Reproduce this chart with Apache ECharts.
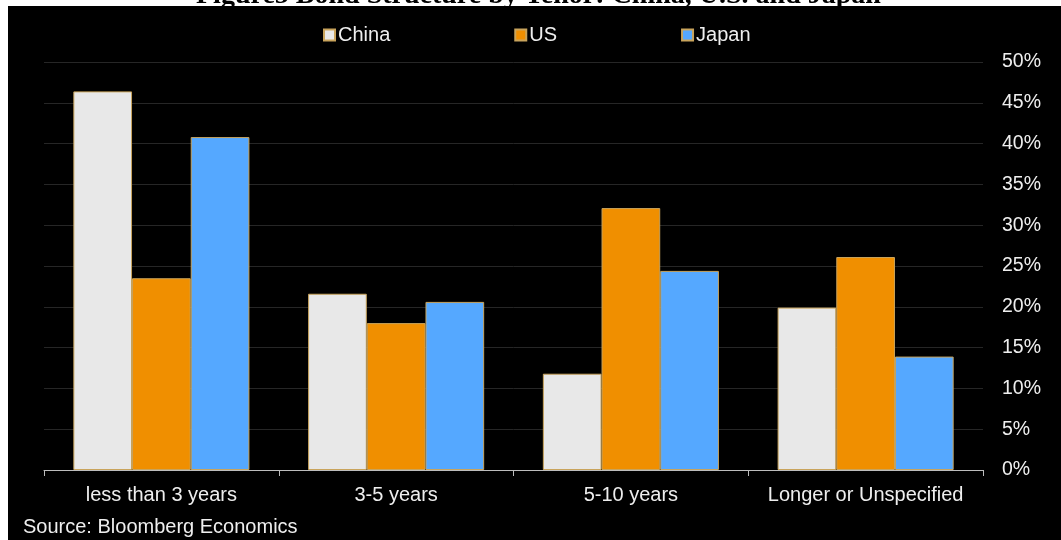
<!DOCTYPE html>
<html>
<head>
<meta charset="utf-8">
<script src="https://cdn.jsdelivr.net/npm/echarts@6/dist/echarts.min.js"></script>
<style>
  html, body { margin: 0; padding: 0; background: #ffffff; }
  #chart { width: 1061px; height: 540px; }
</style>
</head>
<body>
<div id="chart"></div>
<script>
// Bond structure by tenor, share of outstanding bonds (%)
const categories = ['less than 3 years', '3-5 years', '5-10 years', 'Longer or Unspecified'];
const china = [46.4, 21.6, 11.8, 19.9];
const us = [23.5, 18.0, 32.1, 26.1];
const japan = [40.8, 20.6, 24.4, 13.9];
const yTicks = { min: 0, max: 50, step: 5 };

const textColor = '#eeeeee';
const font = 'Liberation Sans, Arial, sans-serif';
const edge = '#c9a45c';

const chart = echarts.init(document.getElementById('chart'), null, { renderer: 'canvas' });

function barSeries(name, data, color) {
  return {
    name: name,
    type: 'bar',
    data: data,
    barGap: '0%',
    barCategoryGap: '25%',
    itemStyle: { color: color, borderColor: edge, borderWidth: 1 }
  };
}

chart.setOption({
  backgroundColor: '#000000',
  animation: false,
  textStyle: { fontFamily: font },
  graphic: [
    { type: 'rect', z: 100, shape: { x: 0, y: 0, width: 1061, height: 6 }, style: { fill: '#ffffff' } },
    { type: 'rect', z: 100, shape: { x: 0, y: 0, width: 8, height: 540 }, style: { fill: '#ffffff' } },
    {
      type: 'text', z: 101, left: 196, top: -18,
      style: {
        text: 'Figure5 Bond Structure by Tenor: China, U.S. and Japan',
        font: 'bold 28px "Liberation Serif", "Times New Roman", serif',
        fill: '#000000'
      }
    },
    {
      type: 'text', z: 50, left: 23, top: 517,
      style: { text: 'Source: Bloomberg Economics', font: '20px ' + font, fill: textColor }
    }
  ],
  legend: {
    top: 20,
    left: 318,
    itemWidth: 11,
    itemHeight: 11,
    itemGap: 124,
    icon: 'rect',
    textStyle: { color: textColor, fontSize: 20, fontFamily: font, padding: [0, 0, 0, -2] },
    data: ['China', 'US', 'Japan']
  },
  grid: { left: 44, right: 78, top: 62, bottom: 70, containLabel: false },
  xAxis: {
    type: 'category',
    data: categories,
    axisLine: { lineStyle: { color: '#bdbdbd', width: 1 } },
    axisTick: { show: true, interval: 0, length: 6, lineStyle: { color: '#bdbdbd' } },
    axisLabel: { interval: 0, hideOverlap: false, color: textColor, fontSize: 20, fontFamily: font, margin: 15 },
    splitLine: { show: false }
  },
  yAxis: {
    type: 'value',
    position: 'right',
    min: yTicks.min,
    max: yTicks.max,
    interval: yTicks.step,
    axisLine: { show: false },
    axisTick: { show: false },
    axisLabel: { color: textColor, fontSize: 19.5, fontFamily: font, margin: 19, formatter: '{value}%' },
    splitLine: { lineStyle: { color: '#262626', width: 1 } }
  },
  series: [
    barSeries('China', china, '#e8e8e8'),
    barSeries('US', us, '#f08f00'),
    barSeries('Japan', japan, '#55a8ff')
  ]
});
</script>
</body>
</html>
